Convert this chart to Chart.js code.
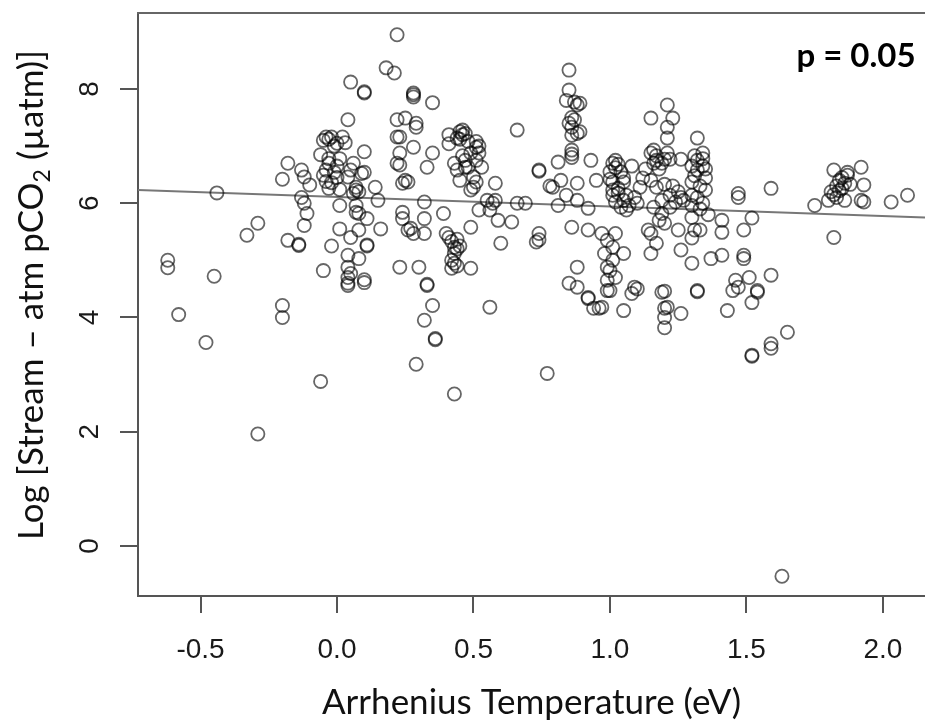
<!DOCTYPE html>
<html>
<head>
<meta charset="utf-8">
<title>Stream CO2 vs Arrhenius temperature</title>
<script src="https://cdn.jsdelivr.net/npm/chart.js@4.4.1/dist/chart.umd.min.js"></script>
<style>
  html, body { margin: 0; padding: 0; background: #fff; }
</style>
</head>
<body>
<canvas id="scatter" width="925" height="728"></canvas>
<script>
// Arrhenius temperature (eV) and log stream-atm pCO2
var arrTemp = [
  -0.62,-0.62,-0.58,-0.48,-0.45,-0.44,-0.33,-0.29,-0.29,-0.20,
  -0.20,-0.18,-0.20,-0.18,-0.14,-0.14,-0.13,-0.12,-0.10,-0.13,
  -0.12,-0.11,-0.12,-0.06,-0.05,-0.04,-0.02,-0.05,-0.03,0.00,
  0.02,-0.01,0.03,-0.06,-0.03,0.01,-0.03,0.00,-0.04,-0.01,
  -0.05,0.00,-0.04,-0.02,-0.03,0.01,
  0.04,0.05,0.10,0.10,0.10,0.10,0.09,0.05,0.06,0.04,
  0.07,0.08,0.06,0.07,0.14,0.15,0.01,0.07,0.08,0.07,
  0.11,0.01,0.05,0.08,-0.02,0.11,0.11,0.04,0.08,0.04,
  0.05,0.04,0.10,0.04,0.04,0.10,0.16,
  0.18,0.21,0.22,0.28,0.28,0.28,0.35,0.22,0.25,0.29,
  0.29,0.22,0.23,0.28,0.35,0.33,0.23,0.22,0.23,0.25,
  0.26,0.24,0.32,0.24,0.24,0.26,0.28,0.27,0.32,0.32,
  0.39,0.30,0.23,0.33,0.33,0.35,0.32,0.36,0.36,0.29,
  0.43,
  0.40,0.41,0.42,0.43,0.44,0.45,0.44,0.43,0.42,0.43,
  0.44,0.42,0.49,0.49,
  0.41,0.45,0.46,0.47,0.44,0.45,0.46,0.48,0.51,0.41,
  0.52,0.51,0.49,0.46,0.52,0.43,0.47,0.51,0.44,0.47,
  0.48,0.53,0.45,0.50,0.51,0.50,0.49,0.58,0.58,0.57,
  0.52,0.56,0.55,0.59,0.64,0.60,0.66,0.66,0.69,0.56,
  0.85,0.85,0.84,0.87,0.89,0.88,0.86,0.87,0.85,0.86,
  0.89,0.88,0.86,0.86,0.86,0.86,0.93,0.74,0.74,0.81,
  0.82,0.79,0.78,0.88,0.84,0.81,0.88,0.92,0.95,0.74,
  0.73,0.74,0.86,0.92,0.88,0.85,0.88,0.92,0.77,
  0.97,0.99,1.02,1.01,0.98,1.01,0.99,1.00,1.02,0.99,
  1.00,0.99,0.92,0.94,0.96,0.97,1.05,1.09,1.08,1.10,
  1.05,
  1.01,1.02,1.00,1.04,1.05,1.00,1.01,1.05,1.08,1.03,
  1.01,1.03,1.06,1.01,1.09,1.05,1.10,1.07,1.06,1.02,
  1.04,1.12,1.11,1.02,1.03,
  1.15,1.21,1.23,1.21,1.21,1.16,1.15,1.17,1.21,1.20,
  1.17,1.19,1.22,1.26,1.16,1.13,1.18,1.15,1.17,1.20,
  1.23,1.25,1.22,1.26,1.19,1.24,1.27,1.22,1.16,1.19,
  1.20,1.18,1.14,1.15,1.17,1.15,1.25,1.26,1.19,1.20,
  1.20,1.21,1.20,1.20,1.26,
  1.32,1.34,1.31,1.32,1.34,1.30,1.34,1.32,1.35,1.31,
  1.35,1.30,1.33,1.35,1.30,1.32,1.34,1.30,1.33,1.36,
  1.30,1.31,1.33,1.30,1.30,1.32,1.32,
  1.37,1.41,1.41,1.41,1.47,1.47,1.49,1.52,1.49,1.49,
  1.59,1.59,1.46,1.45,1.47,1.54,1.51,1.43,1.54,1.52,
  1.52,1.52,1.59,1.59,1.65,1.63,
  1.75,1.80,1.81,1.82,1.83,1.84,1.85,1.86,1.85,1.87,
  1.83,1.86,1.82,1.87,1.88,1.84,1.92,1.93,1.92,1.93,
  2.03,2.09,1.82
];
var logCO2 = [
  5.00,4.87,4.05,3.56,4.72,6.18,5.44,5.65,1.96,4.21,
  4.00,6.70,6.42,5.35,5.26,5.28,6.58,6.46,6.32,6.10,
  6.00,5.82,5.61,2.88,4.82,7.16,7.16,7.10,7.12,7.05,
  7.16,7.00,7.06,6.85,6.78,6.78,6.70,6.65,6.58,6.54,
  6.49,6.45,6.38,6.36,6.26,6.24,
  7.46,8.12,7.95,7.93,6.90,6.54,6.52,6.58,6.70,6.46,
  6.28,6.20,6.17,6.23,6.28,6.05,5.96,5.96,5.82,5.84,
  5.73,5.55,5.40,5.53,5.25,5.25,5.27,5.09,5.03,4.88,
  4.77,4.70,4.66,4.60,4.56,4.61,5.55,
  8.37,8.28,8.95,7.93,7.86,7.90,7.76,7.46,7.49,7.40,
  7.33,7.16,7.16,6.98,6.88,6.63,6.88,6.70,6.67,6.40,
  6.37,6.35,6.02,5.84,5.73,5.53,5.47,5.56,5.73,5.47,
  5.82,4.88,4.88,4.56,4.58,4.21,3.95,3.61,3.63,3.18,
  2.66,
  5.47,5.40,5.33,5.23,5.20,5.25,5.37,5.12,5.00,4.95,
  4.90,4.86,5.58,4.86,
  7.20,7.25,7.20,7.22,7.14,7.12,7.28,7.08,7.08,7.04,
  7.00,6.98,6.88,6.83,6.88,6.70,6.75,6.75,6.58,6.63,
  6.63,6.63,6.40,6.46,6.37,6.28,6.23,6.35,6.05,6.00,
  5.88,5.88,6.05,5.70,5.67,5.30,7.28,6.00,6.00,4.18,
  8.33,7.98,7.80,7.77,7.75,7.72,7.50,7.46,7.40,7.33,
  7.25,7.22,7.19,6.93,6.86,6.80,6.75,6.58,6.56,6.72,
  6.40,6.28,6.30,6.35,6.14,5.96,6.05,5.91,6.40,5.47,
  5.32,5.36,5.58,5.53,4.88,4.60,4.53,4.35,3.02,
  5.47,5.35,5.47,5.23,5.12,5.00,4.88,4.82,4.70,4.65,
  4.47,4.47,4.33,4.16,4.16,4.18,5.12,4.53,4.42,4.50,
  4.12,
  6.70,6.62,6.55,6.55,6.44,6.42,6.37,6.37,6.65,6.26,
  6.23,6.18,6.14,6.14,6.10,6.05,6.00,5.96,5.88,6.02,
  5.93,6.44,6.28,6.75,6.68,
  7.49,7.72,7.49,7.33,7.14,6.93,6.88,6.83,6.88,6.77,
  6.75,6.70,6.77,6.77,6.70,6.60,6.60,6.40,6.28,6.33,
  6.30,6.20,6.14,6.10,6.05,6.02,6.05,5.93,5.93,5.82,
  5.65,5.70,5.53,5.47,5.30,5.12,5.53,5.18,4.44,4.46,
  4.16,4.18,4.00,3.82,4.07,
  7.14,6.88,6.83,6.75,6.78,6.65,6.65,6.58,6.60,6.48,
  6.44,6.37,6.30,6.23,6.14,6.10,6.00,5.96,5.90,5.80,
  5.75,5.53,5.53,5.39,4.95,4.47,4.45,
  5.03,5.09,5.49,5.70,6.17,6.10,5.53,5.74,5.09,5.03,
  6.26,4.74,4.65,4.47,4.53,4.47,4.70,4.12,4.44,4.26,
  3.32,3.34,3.54,3.46,3.74,-0.53,
  5.96,6.05,6.20,6.15,6.30,6.40,6.26,6.35,6.45,6.49,
  6.10,6.05,6.58,6.54,6.33,6.22,6.63,6.32,6.05,6.02,
  6.02,6.14,5.40
];

// fitted line, ends at the plot edges
var fitX = [-0.729, 2.154];
var fitY = [6.23, 5.75];

var xTickVals = [-0.5, 0, 0.5, 1, 1.5, 2];
var yTickVals = [0, 2, 4, 6, 8];

var xTitle = "Arrhenius Temperature (eV)";
var yTitleParts = ["Log [Stream \u2013 atm pCO", "2", " (\u00b5atm)]"];
var pLabel = "p = 0.05";

var points = arrTemp.map(function(x, i) { return { x: x, y: logCO2[i] }; });
var fitLine = fitX.map(function(x, i) { return { x: x, y: fitY[i] }; });

// R style extras: top of box, turned y labels, y title with subscript, p value
var rDecor = {
  id: "rDecor",
  afterDraw: function(chart) {
    var ctx = chart.ctx;
    var area = chart.chartArea;
    var ys = chart.scales.y;
    ctx.save();

    ctx.strokeStyle = "#666";
    ctx.lineWidth = 2;
    ctx.beginPath();
    ctx.moveTo(area.left - 1, area.top);
    ctx.lineTo(area.right, area.top);
    ctx.stroke();

    ctx.fillStyle = "#1a1a1a";
    ctx.font = '28px "Liberation Sans"';
    ctx.textAlign = "center";
    ctx.textBaseline = "middle";
    yTickVals.forEach(function(v) {
      ctx.save();
      ctx.translate(90, ys.getPixelForValue(v));
      ctx.rotate(-Math.PI / 2);
      ctx.fillText(String(v), 0, 0);
      ctx.restore();
    });

    // y title
    var big = "35px Lato", small = "23px Lato";
    ctx.save();
    ctx.translate(43, 295);
    ctx.rotate(-Math.PI / 2);
    ctx.fillStyle = "#111";
    ctx.textAlign = "left";
    ctx.textBaseline = "alphabetic";
    ctx.font = big;
    var w0 = ctx.measureText(yTitleParts[0]).width;
    var w2 = ctx.measureText(yTitleParts[2]).width;
    ctx.font = small;
    var w1 = ctx.measureText(yTitleParts[1]).width;
    var pos = -(w0 + w1 + w2) / 2;
    ctx.font = big;
    ctx.fillText(yTitleParts[0], pos, 0);
    pos += w0;
    ctx.font = small;
    ctx.fillText(yTitleParts[1], pos, 7);
    pos += w1;
    ctx.font = big;
    ctx.fillText(yTitleParts[2], pos, 0);
    ctx.restore();

    ctx.fillStyle = "#000";
    ctx.font = "bold 33px Lato";
    ctx.textAlign = "center";
    ctx.textBaseline = "alphabetic";
    ctx.fillText(pLabel, 856, 67);

    ctx.restore();
  }
};

var chart = new Chart(document.getElementById("scatter"), {
  type: "scatter",
  data: {
    datasets: [
      {
        label: "sites",
        data: points,
        pointStyle: "circle",
        pointRadius: 6.6,
        pointHoverRadius: 6.6,
        borderWidth: 1.8,
        borderColor: "rgba(0,0,0,0.6)",
        backgroundColor: "rgba(0,0,0,0)"
      },
      {
        label: "fit",
        data: fitLine,
        showLine: true,
        pointRadius: 0,
        borderColor: "#777",
        borderWidth: 2,
        fill: false
      }
    ]
  },
  options: {
    responsive: false,
    animation: false,
    layout: { autoPadding: false, padding: { top: 13, right: 0, bottom: 0, left: 0 } },
    plugins: {
      legend: { display: false },
      tooltip: { enabled: false }
    },
    scales: {
      x: {
        type: "linear",
        min: -0.729,
        max: 2.154,
        afterBuildTicks: function(s) { s.ticks = xTickVals.map(function(v) { return { value: v }; }); },
        afterFit: function(s) {
          s.height = 132;
          s.paddingLeft = 0;
          s.paddingRight = 0;
        },
        border: { display: true, color: "#555", width: 2 },
        grid: { display: true, drawOnChartArea: false, drawTicks: true, tickLength: 17, color: "#555", lineWidth: 2 },
        ticks: {
          font: { family: "Liberation Sans", size: 28 },
          color: "#1a1a1a",
          padding: 20,
          maxRotation: 0,
          callback: function(v) { return Number(v).toFixed(1); }
        },
        title: {
          display: true,
          text: xTitle,
          font: { family: "Lato", size: 35 },
          color: "#111",
          padding: { top: 0, bottom: 4 }
        }
      },
      y: {
        type: "linear",
        min: -0.877,
        max: 9.33,
        afterBuildTicks: function(s) { s.ticks = yTickVals.map(function(v) { return { value: v }; }); },
        afterFit: function(s) {
          s.width = 138;
          s.paddingTop = 0;
          s.paddingBottom = 0;
        },
        border: { display: true, color: "#555", width: 2 },
        grid: { display: true, drawOnChartArea: false, drawTicks: true, tickLength: 18, color: "#555", lineWidth: 2 },
        ticks: { display: false }
      }
    }
  },
  plugins: [rDecor]
});
</script>
</body>
</html>
